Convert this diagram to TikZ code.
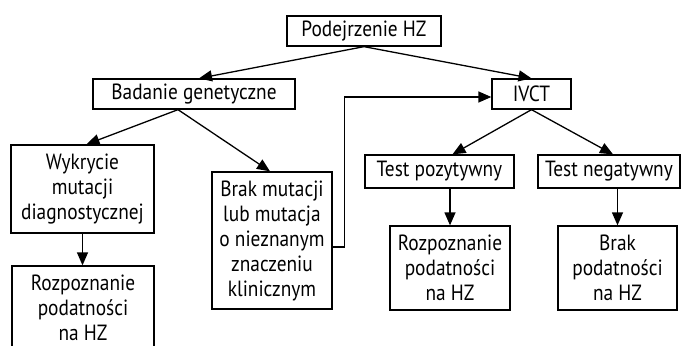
\documentclass[tikz,border=0pt]{standalone}
\usepackage{fontspec}
\setmainfont[FakeStretch=0.88]{PT Sans}
\usetikzlibrary{arrows.meta,calc}
\begin{document}
\begin{tikzpicture}[x=1pt,y=-1pt,
  box/.style={draw,line width=1.3pt,inner sep=0pt,align=center,font=\fontsize{22}{25}\selectfont,anchor=center},
  arr/.style={line width=1.3pt,-{Triangle[length=13pt,width=11pt]}},
  ln/.style={line width=1.3pt}]
\useasboundingbox (0,0) rectangle (684,345);
\clip (0,0) rectangle (684,345);
\node[box,minimum width=154pt,minimum height=30pt] (pod) at (364,31) {Podejrzenie HZ};
\node[box,minimum width=202pt,minimum height=30pt] (bad) at (194,94) {Badanie genetyczne};
\node[box,minimum width=79pt,minimum height=30pt] (ivct) at (531.5,94) {IVCT};
\node[box,minimum width=143pt,minimum height=88pt] (wyk) at (82.5,189) {Wykrycie\\mutacji\\diagnostycznej};
\node[box,minimum width=120pt,minimum height=137pt] (brak) at (272,240.5) {Brak mutacji\\lub mutacja\\o nieznanym\\znaczeniu\\klinicznym};
\node[box,minimum width=142pt,minimum height=84pt] (roz1) at (83,308) {Rozpoznanie\\podatności\\na HZ};
\node[box,minimum width=149pt,minimum height=33pt] (tpoz) at (439.5,171.5) {Test pozytywny};
\node[box,minimum width=142pt,minimum height=33pt] (tneg) at (609,171.5) {Test negatywny};
\node[box,minimum width=120pt,minimum height=84pt] (roz2) at (450,268) {Rozpoznanie\\podatności\\na HZ};
\node[box,minimum width=119pt,minimum height=84pt] (brak2) at (617.5,268) {Brak\\podatności\\na HZ};
\draw[arr] (pod.south) -- ($(bad.north)+(5,0)$);
\draw[arr] (pod.south) -- (ivct.north);
\draw[arr] ($(bad.south)+(-16,0)$) -- ($(wyk.north)+(4,0)$);
\draw[arr] ($(bad.south)+(-16,0)$) -- ($(brak.north)+(-2,0)$);
\draw[arr] (wyk.south) -- (wyk.south |- roz1.north);
\draw[arr] (ivct.south) -- ($(tpoz.north)+(13,0)$);
\draw[arr] (ivct.south) -- ($(tneg.north)+(4,0)$);
\draw[arr] (roz2.north |- tpoz.south) -- (roz2.north);
\draw[arr] (brak2.north |- tneg.south) -- (brak2.north);
\coordinate (e1) at ($(brak.east)+(0,6.5)$);
\coordinate (e2) at ($(ivct.west)+(0,3)$);
\draw[arr] (e1) -- ++(12,0) |- (e2);
\end{tikzpicture}
\end{document}
